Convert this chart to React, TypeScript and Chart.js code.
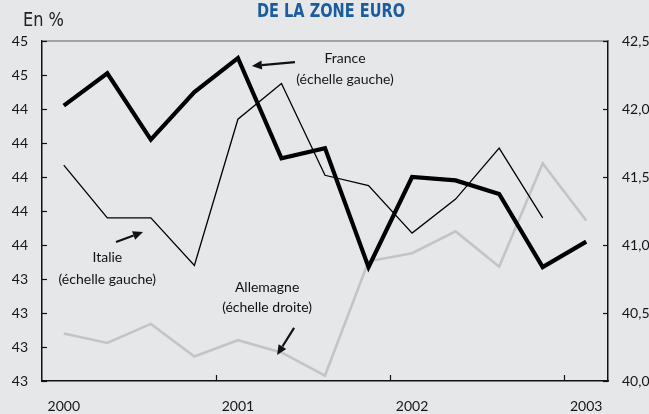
import React, { useEffect, useRef } from "react";
import { Chart, registerables } from "chart.js";
Chart.register(...registerables);

// ---- Data ----
const QUARTERS = [
  "2000 T1", "2000 T2", "2000 T3", "2000 T4",
  "2001 T1", "2001 T2", "2001 T3", "2001 T4",
  "2002 T1", "2002 T2", "2002 T3", "2002 T4",
  "2003 T1",
];
// France (left scale)
const FRANCE = [44.32, 44.51, 44.12, 44.4, 44.6, 44.01, 44.07, 43.37, 43.9, 43.88, 43.8, 43.37, 43.52];
// Italie (left scale)
const ITALIE = [43.97, 43.66, 43.66, 43.38, 44.24, 44.45, 43.91, 43.85, 43.57, 43.77, 44.07, 43.66];
// Allemagne (right scale)
const ALLEMAGNE = [40.35, 40.28, 40.42, 40.18, 40.3, 40.21, 40.04, 40.88, 40.94, 41.1, 40.84, 41.6, 41.18];

const LEFT_TICK_VALUES = [42.7, 42.9, 43.1, 43.3, 43.5, 43.7, 43.9, 44.1, 44.3, 44.5, 44.7];
const LEFT_TICK_LABELS = ["43", "43", "43", "43", "44", "44", "44", "44", "44", "45", "45"];
const RIGHT_MIN = 40;
const RIGHT_MAX = 42.5;
const RIGHT_STEP = 0.5;

const TITLE = "DE LA ZONE EURO";
const UNIT = "En %";

const ANNOTATIONS = [
  { lines: ["France", "(échelle gauche)"], x: 6.46, y: [44.6, 44.476], from: [5.31, 44.576], to: [4.32, 44.553] },
  { lines: ["Italie", "(échelle gauche)"], x: 1.0, y: [43.424, 43.3], from: [1.2, 43.518], to: [1.82, 43.576] },
  { lines: ["Allemagne", "(échelle droite)"], x: 4.67, y: [43.253, 43.135], from: [5.29, 43.012], to: [4.9, 42.853] },
];

const BG = "#e6e7e9";
const FONT = "Lato";
const TEXT = "#161616";

function drawArrow(ctx: CanvasRenderingContext2D, x1: number, y1: number, x2: number, y2: number) {
  const ang = Math.atan2(y2 - y1, x2 - x1);
  const head = 10;
  const hw = 4.5;
  const bx = x2 - head * Math.cos(ang);
  const by = y2 - head * Math.sin(ang);
  ctx.beginPath();
  ctx.moveTo(x1, y1);
  ctx.lineTo(bx, by);
  ctx.lineWidth = 2.2;
  ctx.strokeStyle = "#111";
  ctx.stroke();
  ctx.beginPath();
  ctx.moveTo(x2, y2);
  ctx.lineTo(bx + hw * Math.sin(ang), by - hw * Math.cos(ang));
  ctx.lineTo(bx - hw * Math.sin(ang), by + hw * Math.cos(ang));
  ctx.closePath();
  ctx.fillStyle = "#111";
  ctx.fill();
}

function drawScaledText(ctx: CanvasRenderingContext2D, text: string, font: string, color: string, left: number, cy: number, width: number) {
  ctx.save();
  ctx.font = font;
  const w = ctx.measureText(text).width;
  ctx.translate(left, cy);
  ctx.scale(width / w, 1);
  ctx.fillStyle = color;
  ctx.textAlign = "left";
  ctx.textBaseline = "middle";
  ctx.fillText(text, 0, 0);
  ctx.restore();
}

const overlay = {
  id: "overlay",
  beforeDraw(chart: any) {
    const ctx = chart.ctx;
    ctx.save();
    ctx.fillStyle = BG;
    ctx.fillRect(0, 0, chart.width, chart.height);
    ctx.restore();
  },
  afterDraw(chart: any) {
    const ctx: CanvasRenderingContext2D = chart.ctx;
    const area = chart.chartArea;
    const xs = chart.scales.x;
    const yl = chart.scales.y;
    const yr = chart.scales.y2;
    ctx.save();
    // top border
    ctx.beginPath();
    ctx.moveTo(area.left, area.top);
    ctx.lineTo(area.right, area.top);
    ctx.strokeStyle = "#8c8c8c";
    ctx.lineWidth = 1.5;
    ctx.stroke();
    // inward tick marks
    ctx.strokeStyle = "#111";
    ctx.lineWidth = 1.2;
    yl.ticks.forEach((t: any) => {
      const py = Math.round(yl.getPixelForValue(t.value)) + 0.5;
      ctx.beginPath();
      ctx.moveTo(area.left, py);
      ctx.lineTo(area.left + 5, py);
      ctx.stroke();
    });
    yr.ticks.forEach((t: any) => {
      const py = Math.round(yr.getPixelForValue(t.value)) + 0.5;
      ctx.beginPath();
      ctx.moveTo(area.right - 5, py);
      ctx.lineTo(area.right, py);
      ctx.stroke();
    });
    for (let i = 1; i < QUARTERS.length; i++) {
      if (QUARTERS[i].endsWith("T1")) {
        const px = Math.round(xs.getPixelForValue(i - 0.5)) + 0.5;
        ctx.beginPath();
        ctx.moveTo(px, area.bottom);
        ctx.lineTo(px, area.bottom - 6);
        ctx.stroke();
      }
    }
    // annotations
    ctx.font = `14px ${FONT}`;
    ctx.fillStyle = TEXT;
    ctx.textAlign = "center";
    ctx.textBaseline = "middle";
    ANNOTATIONS.forEach((a) => {
      const cx = xs.getPixelForValue(a.x);
      a.lines.forEach((l, k) => {
        ctx.fillText(l, cx, yl.getPixelForValue(a.y[k]));
      });
      drawArrow(
        ctx,
        xs.getPixelForValue(a.from[0]), yl.getPixelForValue(a.from[1]),
        xs.getPixelForValue(a.to[0]), yl.getPixelForValue(a.to[1])
      );
    });
    // title and unit
    drawScaledText(ctx, TITLE, `bold 20px 'DejaVu Sans'`, "#1b5c9e", 257, 12, 148);
    drawScaledText(ctx, UNIT, `19px 'DejaVu Sans'`, "#222", 23, 21, 41);
    ctx.restore();
  },
};

export default function App() {
  const ref = useRef<HTMLCanvasElement>(null);
  useEffect(() => {
    document.body.style.margin = "0";
    const chart = new Chart(ref.current!, {
      type: "line",
      data: {
        labels: QUARTERS,
        datasets: [
          { label: "France", data: FRANCE, yAxisID: "y", borderColor: "#000", borderWidth: 4.2, pointRadius: 0, tension: 0, borderJoinStyle: "miter", order: 0 },
          { label: "Italie", data: ITALIE, yAxisID: "y", borderColor: "#000", borderWidth: 1.3, pointRadius: 0, tension: 0, order: 1 },
          { label: "Allemagne", data: ALLEMAGNE, yAxisID: "y2", borderColor: "#c4c4c4", borderWidth: 2.6, pointRadius: 0, tension: 0, order: 2 },
        ],
      },
      options: {
        animation: false,
        responsive: false,
        devicePixelRatio: 1,
        layout: { padding: { top: 41, left: 0, right: 0, bottom: 0 } },
        plugins: { legend: { display: false }, tooltip: { enabled: false }, title: { display: false } },
        scales: {
          x: {
            type: "category",
            offset: true,
            grid: { display: false, drawTicks: false },
            border: { display: true, color: "#111", width: 1.5 },
            ticks: {
              autoSkip: false,
              maxRotation: 0,
              padding: 17,
              color: TEXT,
              font: { family: FONT, size: 14 },
              callback: (_v: any, i: number) => (QUARTERS[i].endsWith("T1") ? QUARTERS[i].slice(0, 4) : ""),
            },
            afterFit: (s: any) => { s.height = 33; },
          },
          y: {
            type: "linear",
            position: "left",
            min: LEFT_TICK_VALUES[0],
            max: LEFT_TICK_VALUES[LEFT_TICK_VALUES.length - 1],
            grid: { display: false, drawTicks: false },
            border: { display: true, color: "#111", width: 1.5 },
            afterBuildTicks: (s: any) => { s.ticks = LEFT_TICK_VALUES.map((value) => ({ value })); },
            ticks: {
              padding: 14,
              color: TEXT,
              font: { family: FONT, size: 14 },
              callback: (_v: any, i: number) => LEFT_TICK_LABELS[i],
            },
            afterFit: (s: any) => { s.width = 42; },
          },
          y2: {
            type: "linear",
            position: "right",
            min: RIGHT_MIN,
            max: RIGHT_MAX,
            grid: { display: false, drawTicks: false },
            border: { display: true, color: "#111", width: 1.5 },
            ticks: {
              stepSize: RIGHT_STEP,
              padding: 14,
              color: TEXT,
              font: { family: FONT, size: 14 },
              callback: (v: any) => Number(v).toFixed(1).replace(".", ","),
            },
            afterFit: (s: any) => { s.width = 41; },
          },
        },
      },
      plugins: [overlay],
    } as any);
    return () => chart.destroy();
  }, []);
  return (
    <div style={{ width: 649, height: 414 }}>
      <canvas ref={ref} width={649} height={414} style={{ display: "block" }} />
    </div>
  );
}
